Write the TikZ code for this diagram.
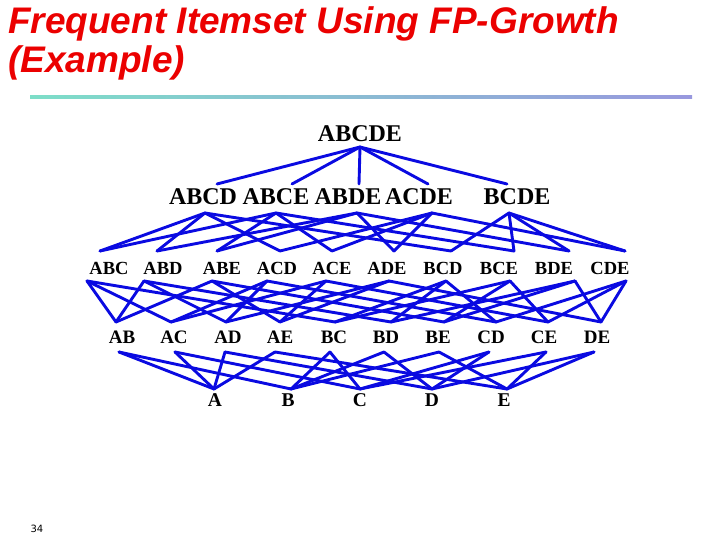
\documentclass[tikz,border=0pt]{standalone}
\usepackage{fontspec}
\setmainfont{Liberation Serif}
\newfontfamily\titlefont{Liberation Sans}
\newfontfamily\numfont{DejaVu Sans}
\definecolor{titlered}{RGB}{235,0,0}
\definecolor{edgeblue}{RGB}{10,10,225}
\definecolor{ruleleft}{RGB}{125,222,200}
\definecolor{ruleright}{RGB}{152,152,222}
\begin{document}
\begin{tikzpicture}[x=1pt,y=-1pt,
  lab/.style={inner sep=0pt,font=\bfseries\fontsize{#1}{#1}\selectfont},
  edge/.style={draw=edgeblue,line width=2.9pt,line cap=round,line join=round}]
\useasboundingbox (0,0) rectangle (720,540);
% title
\node[anchor=base west,inner sep=0pt,text=titlered,font=\titlefont\bfseries\itshape\fontsize{37}{37}\selectfont] (t1) at (8,34) {Frequent Itemset Using FP-Growth};
\node[anchor=base west,inner sep=0pt,text=titlered,font=\titlefont\bfseries\itshape\fontsize{37}{37}\selectfont] (t2) at (8,73) {(Example)};
\shade[left color=ruleleft,right color=ruleright] (30,95.5) rectangle (692,99);
\node[inner sep=0pt,font=\numfont\fontsize{10}{10}\selectfont] (pg) at (37,529) {34};
% labels
\node[lab=24] (ABCDE) at (360,134) {ABCDE};
\foreach \n/\x in {ABCD/203,ABCE/276,ABDE/348,ACDE/419,BCDE/517}
  \node[lab=24] (\n) at (\x,197) {\n};
\foreach \n/\x in {ABC/109,ABD/163,ABE/222,ACD/277,ACE/332,ADE/387,BCD/443,BCE/499,BDE/554,CDE/610}
  \node[lab=18.5] (\n) at (\x,268) {\n};
\foreach \n/\x in {AB/122,AC/174,AD/228,AE/280,BC/334,BD/386,BE/438,CD/491,CE/544,DE/597}
  \node[lab=19] (\n) at (\x,337) {\n};
\foreach \n/\x in {A/215,B/288,C/360,D/432,E/504}
  \node[lab=19.5] (\n) at (\x,400) {\n};
% connector end points
\coordinate (ABCDE-b) at (360,147);
\foreach \n/\x in {ABCD/217,ABCE/292,ABDE/359,ACDE/428,BCDE/507}
  \coordinate (\n-t) at (\x,184);
\foreach \n/\x in {ABCD/205,ABCE/276,ABDE/357,ACDE/432,BCDE/509}
  \coordinate (\n-b) at (\x,213);
\foreach \n/\x in {ABC/100,ABD/157,ABE/217,ACD/280,ACE/332,ADE/394,BCD/451,BCE/514,BDE/569,CDE/625}
  \coordinate (\n-t) at (\x,251);
\foreach \n/\x in {ABC/87,ABD/144,ABE/212,ACD/267,ACE/326,ADE/389,BCD/446,BCE/510,BDE/575,CDE/626}
  \coordinate (\n-b) at (\x,281);
\foreach \n/\x in {AB/116,AC/171,AD/226,AE/280,BC/335,BD/391,BE/444,CD/496,CE/548,DE/601}
  \coordinate (\n-t) at (\x,322);
\foreach \n/\x in {AB/119,AC/175,AD/225,AE/275,BC/330,BD/384,BE/439,CD/489,CE/546,DE/594}
  \coordinate (\n-b) at (\x,352);
\foreach \n/\x in {A/214,B/291,C/360,D/432,E/507}
  \coordinate (\n-t) at (\x,389);
% edges
\foreach \l in {ABCD,ABCE,ABDE,ACDE,BCDE}
  \draw[edge] (ABCDE-b) -- (\l-t);
\foreach \u/\l in {ABCD/ABC,ABCD/ABD,ABCD/ACD,ABCD/BCD,
  ABCE/ABC,ABCE/ABE,ABCE/ACE,ABCE/BCE,
  ABDE/ABD,ABDE/ABE,ABDE/ADE,ABDE/BDE,
  ACDE/ACD,ACDE/ACE,ACDE/ADE,ACDE/CDE,
  BCDE/BCD,BCDE/BCE,BCDE/BDE,BCDE/CDE}
  \draw[edge] (\u-b) -- (\l-t);
\foreach \u/\l in {ABC/AB,ABC/AC,ABC/BC,ABD/AB,ABD/AD,ABD/BD,
  ABE/AB,ABE/AE,ABE/BE,ACD/AC,ACD/AD,ACD/CD,
  ACE/AC,ACE/AE,ACE/CE,ADE/AD,ADE/AE,ADE/DE,
  BCD/BC,BCD/BD,BCD/CD,BCE/BC,BCE/BE,BCE/CE,
  BDE/BD,BDE/BE,BDE/DE,CDE/CD,CDE/CE,CDE/DE}
  \draw[edge] (\u-b) -- (\l-t);
\foreach \u/\l in {AB/A,AB/B,AC/A,AC/C,AD/A,AD/D,AE/A,AE/E,
  BC/B,BC/C,BD/B,BD/D,BE/B,BE/E,CD/C,CD/D,CE/C,CE/E,DE/D,DE/E}
  \draw[edge] (\u-b) -- (\l-t);
\end{tikzpicture}
\end{document}
